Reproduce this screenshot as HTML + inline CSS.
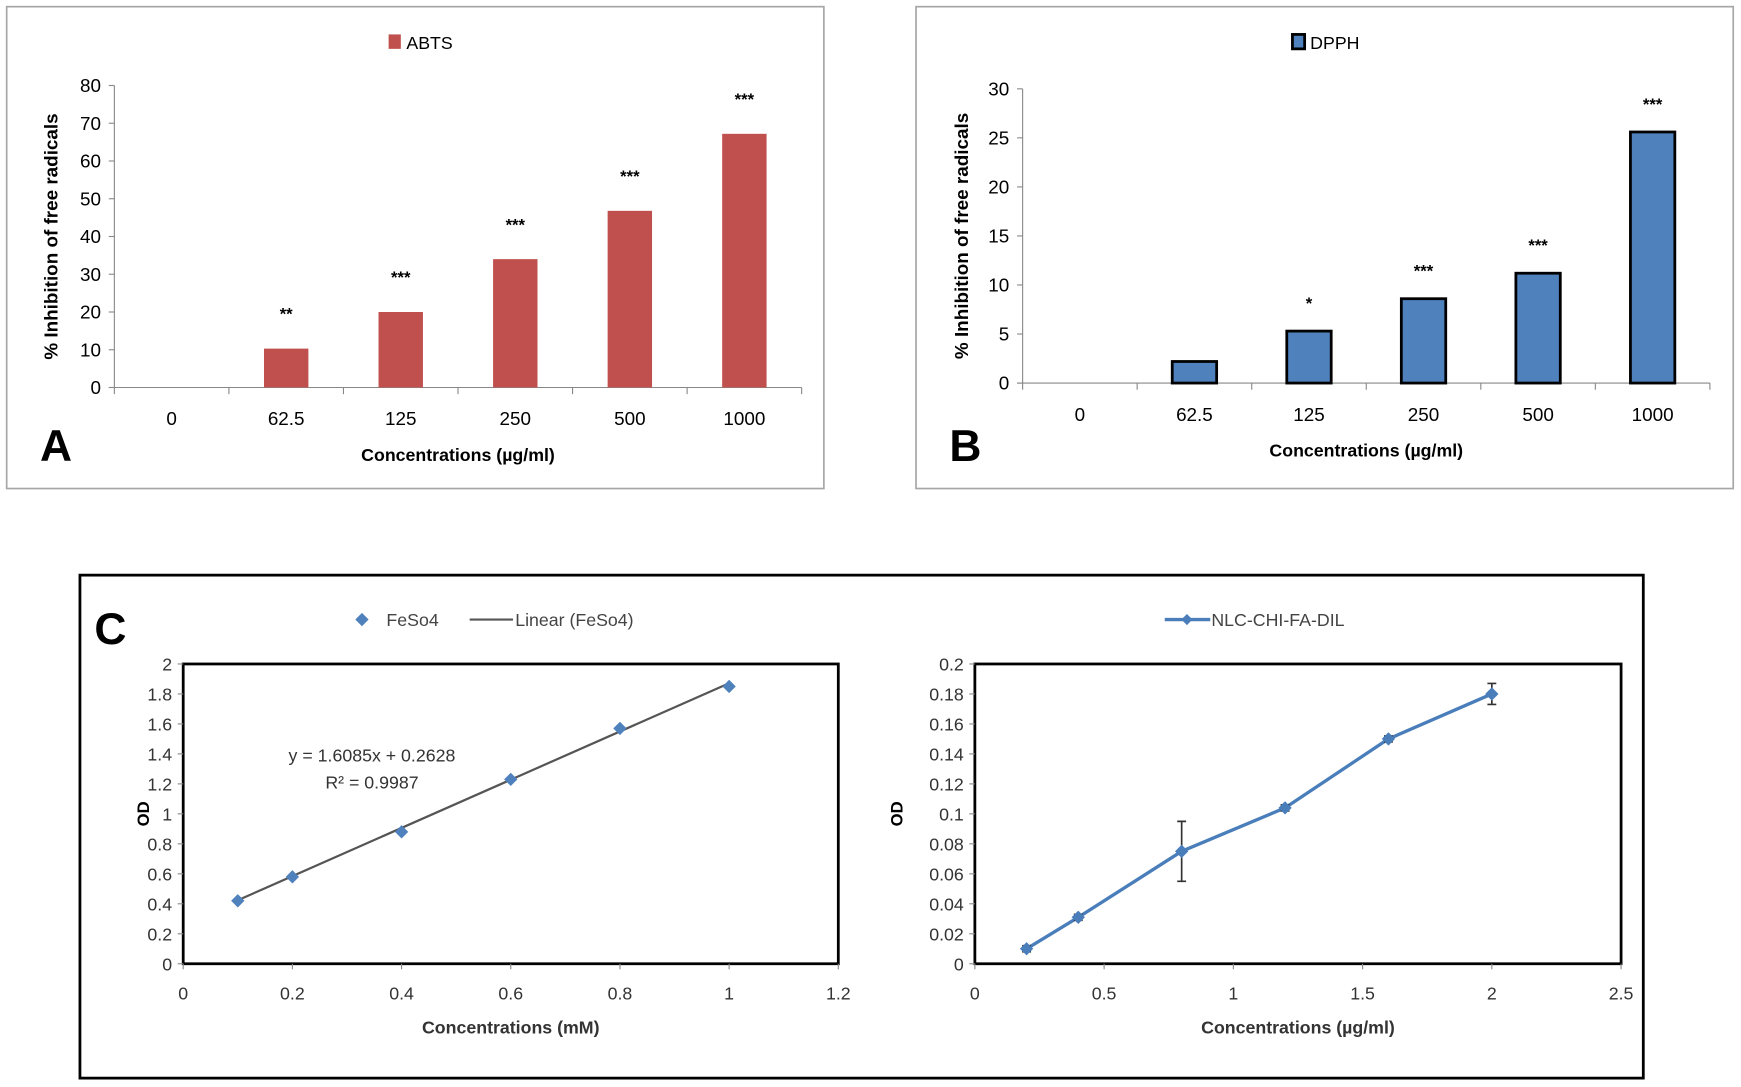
<!DOCTYPE html>
<html><head><meta charset="utf-8"><style>
html,body{margin:0;padding:0;background:#fff;}
svg{display:block;font-family:"Liberation Sans",sans-serif;}
</style></head><body>
<svg id="fig" width="1741" height="1087" viewBox="0 0 1568 979" preserveAspectRatio="none" xmlns="http://www.w3.org/2000/svg">
<rect x="0" y="0" width="1568" height="979" fill="#fff"/>
<g id="panelA"></g>
<g id="panelB"></g>
<g id="panelC"></g>
</svg>
<script>
const barCategories = ["0","62.5","125","250","500","1000"];
const abtsValues = [0,10.3,20,34,46.8,67.2];
const abtsStars = ["","**","***","***","***","***"];
const abtsTicks = [0,10,20,30,40,50,60,70,80];
const dpphValues = [0,2.2,5.3,8.6,11.2,25.6];
const dpphStars = ["","","*","***","***","***"];
const dpphTicks = [0,5,10,15,20,25,30];
const feX = [0.1,0.2,0.4,0.6,0.8,1.0];
const feY = [0.42,0.58,0.88,1.23,1.57,1.85];
const feSlope = 1.6085;
const feIntercept = 0.2628;
const feXTicks = [0,0.2,0.4,0.6,0.8,1,1.2];
const feYTicks = [0,0.2,0.4,0.6,0.8,1,1.2,1.4,1.6,1.8,2];
const nlcX = [0.2,0.4,0.8,1.2,1.6,2.0];
const nlcY = [0.010,0.031,0.075,0.104,0.150,0.180];
const nlcErr = [0.002,0.002,0.020,0.002,0.002,0.007];
const nlcXTicks = [0,0.5,1,1.5,2,2.5];
const nlcYTicks = [0,0.02,0.04,0.06,0.08,0.1,0.12,0.14,0.16,0.18,0.2];

const NS="http://www.w3.org/2000/svg";
function mk(parent,tag,attrs,text){const e=document.createElementNS(NS,tag);for(const k in attrs)e.setAttribute(k,attrs[k]);if(text!==undefined)e.textContent=text;parent.appendChild(e);return e;}

function barPanel(g,o){
  const box=mk(g,'rect',{x:o.bx,y:6,width:736,height:434,fill:'#fff',stroke:'#a6a6a6','stroke-width':1.5});
  
  
  const x0=o.ax,x1=o.ax2,y0=o.y0,y1=o.y1,max=o.ticks[o.ticks.length-1];
  const ys=v=>y0-(v/max)*(y0-y1);
  const cw=(x1-x0)/o.cats.length;
  const ax=mk(g,'line',{x1:x0,y1:y1,x2:x0,y2:y0,stroke:'#888','stroke-width':1});
  
  
  const bx=mk(g,'line',{x1:x0-5,y1:y0,x2:x1,y2:y0,stroke:'#888','stroke-width':1});
  
  
  o.ticks.forEach(t=>{
    mk(g,'line',{x1:x0-5,y1:ys(t),x2:x0,y2:ys(t),stroke:'#888'});
    const tl=mk(g,'text',{x:x0-12,y:ys(t)+6,'text-anchor':'end','font-size':17},t);
    
    
  });
  for(let i=0;i<=o.cats.length;i++)mk(g,'line',{x1:x0+i*cw,y1:y0,x2:x0+i*cw,y2:y0+6,stroke:'#888'});
  o.cats.forEach((c,i)=>{
    const cx=x0+cw*(i+0.5);
    const tl=mk(g,'text',{x:cx,y:y0+34,'text-anchor':'middle','font-size':17},c);
    
    
    const v=o.vals[i];
    if(v>0){
      const r=mk(g,'rect',{x:cx-20,y:ys(v),width:40,height:y0-ys(v),fill:o.color,stroke:o.stroke,'stroke-width':o.sw});
      
      
    }
    if(o.stars[i]){
      const s=mk(g,'text',{x:cx,y:ys(v)-o.soff,'text-anchor':'middle','font-size':15,'font-weight':'bold'},o.stars[i]);
      
      
    }
  });
  const ls=mk(g,'rect',{x:o.lx,y:31,width:11,height:13,fill:o.color,stroke:o.stroke,'stroke-width':o.sw});
  
  
  const lt=mk(g,'text',{x:o.lx+16,y:44,'font-size':16},o.name);
  
  
  const yt=mk(g,'text',{x:0,y:0,transform:`translate(${o.ytx},${(y0+y1)/2}) rotate(-90)`,'text-anchor':'middle','font-size':17,'font-weight':'bold'},'% Inhibition  of free radicals');
  
  
  const xt=mk(g,'text',{x:(x0+x1)/2,y:y0+66,'text-anchor':'middle','font-size':16,'font-weight':'bold'},'Concentrations (µg/ml)');
  
  
  const pl=mk(g,'text',{x:o.bx+30,y:415,'font-size':40,'font-weight':'bold'},o.letter);
  
  
}
barPanel(document.getElementById('panelA'),{bx:6,ax:103,ax2:722,y0:349,y1:77,ticks:abtsTicks,cats:barCategories,vals:abtsValues,stars:abtsStars,color:'#c0504d',stroke:'none',sw:0,lx:350,name:'ABTS',ytx:52,letter:'A',soff:26});
barPanel(document.getElementById('panelB'),{bx:825,ax:921,ax2:1540,y0:345,y1:80,ticks:dpphTicks,cats:barCategories,vals:dpphValues,stars:dpphStars,color:'#4f81bd',stroke:'#000',sw:2.5,lx:1164,name:'DPPH',ytx:872,letter:'B',soff:20});

const gc=document.getElementById('panelC');
const cf=mk(gc,'rect',{x:72,y:518,width:1408,height:453,fill:'#fff',stroke:'#000','stroke-width':2.5});


const cl=mk(gc,'text',{x:85,y:580,'font-size':40,'font-weight':'bold'},'C');



function diamond(g,x,y,r,fill){return mk(g,'polygon',{points:`${x},${y-r} ${x+r},${y} ${x},${y+r} ${x-r},${y}`,fill:fill});}

function scatterAxes(g,o){
  const xs=v=>o.x0+(v/o.xmax)*(o.x1-o.x0);
  const ys=v=>o.y0-(v/o.ymax)*(o.y0-o.y1);
  const fr=mk(g,'rect',{x:o.x0,y:o.y1,width:o.x1-o.x0,height:o.y0-o.y1,fill:'none',stroke:'#000','stroke-width':2.5});
  
  
  o.yt.forEach(t=>{mk(g,'line',{x1:o.x0-5,y1:ys(t),x2:o.x0,y2:ys(t),stroke:'#888'});
    const l=mk(g,'text',{x:o.x0-10,y:ys(t)+6,'text-anchor':'end','font-size':16,fill:'#333'},String(t));
    
    });
  o.xt.forEach(t=>{mk(g,'line',{x1:xs(t),y1:o.y0,x2:xs(t),y2:o.y0+5,stroke:'#888'});
    const l=mk(g,'text',{x:xs(t),y:o.y0+32,'text-anchor':'middle','font-size':16,fill:'#333'},String(t));
    
    });
  const yt=mk(g,'text',{x:0,y:0,transform:`translate(${o.odx},${(o.y0+o.y1)/2}) rotate(-90)`,'text-anchor':'middle','font-size':15,'font-weight':'bold'},'OD');
  
  
  const xt=mk(g,'text',{x:(o.x0+o.x1)/2,y:o.y0+63,'text-anchor':'middle','font-size':16,'font-weight':'bold',fill:'#333'},o.xtitle);
  
  
  return {xs,ys};
}
// left
const L=scatterAxes(gc,{x0:165,x1:755,y0:868,y1:598,xmax:1.2,ymax:2,xt:feXTicks,yt:feYTicks,odx:134,xtitle:'Concentrations (mM)'});
const tr=mk(gc,'line',{x1:L.xs(feX[0]),y1:L.ys(feSlope*feX[0]+feIntercept),x2:L.xs(feX[feX.length-1]),y2:L.ys(feSlope*feX[feX.length-1]+feIntercept),stroke:'#555','stroke-width':2});


feX.forEach((x,i)=>{const d=diamond(gc,L.xs(x),L.ys(feY[i]),6,'#4f81bd');
  
  });
const eq=mk(gc,'text',{x:335,y:686,'text-anchor':'middle','font-size':16,fill:'#333'},'y = 1.6085x + 0.2628');


const r2=mk(gc,'text',{x:335,y:710,'text-anchor':'middle','font-size':16,fill:'#333'},'R² = 0.9987');


const ld=diamond(gc,326,558,6,'#4f81bd');


const ldt=mk(gc,'text',{x:348,y:564,'font-size':16,fill:'#444'},'FeSo4');


const ll=mk(gc,'line',{x1:423,y1:558,x2:462,y2:558,stroke:'#555','stroke-width':2});


const llt=mk(gc,'text',{x:464,y:564,'font-size':16,fill:'#444'},'Linear (FeSo4)');


// right
const R=scatterAxes(gc,{x0:878,x1:1460,y0:868,y1:598,xmax:2.5,ymax:0.2,xt:nlcXTicks,yt:nlcYTicks,odx:813,xtitle:'Concentrations (µg/ml)'});
const pts=nlcX.map((x,i)=>R.xs(x)+','+R.ys(nlcY[i])).join(' ');
const pl=mk(gc,'polyline',{points:pts,fill:'none',stroke:'#4a7ebb','stroke-width':3,'stroke-linejoin':'round'});


nlcX.forEach((x,i)=>{
  const cx=R.xs(x),t=R.ys(nlcY[i]+nlcErr[i]),b=R.ys(nlcY[i]-nlcErr[i]);
  const e=mk(gc,'path',{d:`M${cx},${t}V${b}M${cx-4},${t}H${cx+4}M${cx-4},${b}H${cx+4}`,stroke:'#333','stroke-width':1.5,fill:'none'});
  
  
  const d=diamond(gc,cx,R.ys(nlcY[i]),6,'#4a7ebb');
  
  
});
const nl=mk(gc,'line',{x1:1049,y1:558,x2:1090,y2:558,stroke:'#4a7ebb','stroke-width':3});


const nd=diamond(gc,1069,558,5,'#4a7ebb');


const nt=mk(gc,'text',{x:1091,y:564,'font-size':16,fill:'#444'},'NLC-CHI-FA-DIL');


</script>
</body></html>
